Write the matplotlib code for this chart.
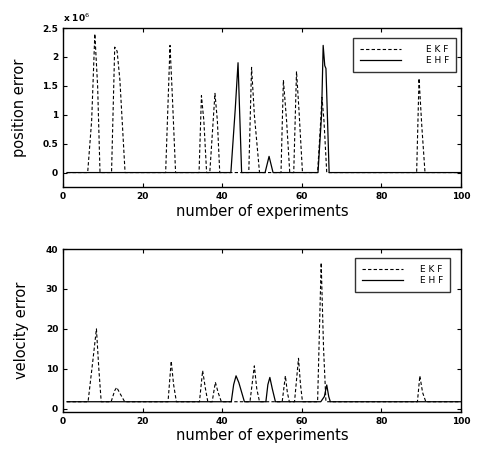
import matplotlib
matplotlib.use('Agg')
import matplotlib.pyplot as plt

ekf_pos_x = [1, 6.2, 7.2, 8.0, 8.7, 9.3, 12.2, 13.0, 13.6, 14.3, 15.6,
             25.8, 26.9, 27.5, 28.3, 34.2, 34.8, 35.4, 36.1, 36.9, 38.2, 38.8, 39.4,
             46.7, 47.4, 48.1, 49.4, 54.8, 55.4, 56.2, 57.0, 58.0, 58.7, 59.3, 60.2,
             64.0, 64.7, 65.1, 65.6, 66.3, 88.9, 89.5, 90.2, 91.0, 100]
ekf_pos_y = [0, 0, 0.9, 2.4, 1.5, 0, 0, 2.17, 2.1, 1.6, 0,
             0, 2.2, 1.3, 0, 0, 1.33, 0.9, 0, 0, 1.37, 0.9, 0,
             0, 1.82, 1.0, 0, 0, 1.6, 0.9, 0, 0, 1.75, 1.1, 0,
             0, 0.8, 1.3, 0.9, 0, 0, 1.63, 0.8, 0, 0]
ehf_pos_x = [1, 42.2, 43.3, 44.0, 44.9, 50.8, 51.8, 52.8,
             64.1, 65.0, 65.4, 65.8, 66.1, 66.9, 100]
ehf_pos_y = [0, 0, 1.1, 1.9, 0, 0, 0.28, 0,
             0, 1.0, 2.2, 1.85, 1.8, 0, 0]

ekf_vel_x = [1, 6.3, 7.5, 8.4, 9.0, 9.6, 12.1, 13.0, 13.5, 14.2, 15.5,
             26.4, 27.2, 27.8, 28.5, 34.3, 35.1, 35.8, 36.4, 37.5, 38.3, 39.0, 39.8,
             47.0, 48.1, 48.7, 49.4, 55.1, 55.9, 56.4, 56.9, 58.2, 59.2, 59.7, 60.2,
             64.0, 64.9, 65.5, 66.1, 89.1, 89.7, 90.4, 91.2, 100]
ekf_vel_y = [1.7, 1.7, 12, 20, 10, 1.7, 1.7, 4.5, 5.3, 4, 1.7,
             1.7, 11.9, 6, 1.7, 1.7, 9.5, 5, 1.7, 1.7, 6.6, 4, 1.7,
             1.7, 10.7, 5, 1.7, 1.7, 8.2, 4, 1.7, 1.7, 12.6, 6, 1.7,
             1.7, 36.6, 15, 1.7, 1.7, 8.2, 4, 1.7, 1.7]
ehf_vel_x = [1, 42.3, 42.9, 43.5, 44.2, 45.6, 51.0, 51.5, 52.0, 52.6, 53.4,
             64.8, 65.7, 66.3, 66.8, 67.2, 100]
ehf_vel_y = [1.7, 1.7, 6, 8.2, 6.5, 1.7, 1.7, 6, 7.8, 5, 1.7,
             1.7, 3, 5.9, 3, 1.7, 1.7]

x_ticks = [0, 20, 40, 60, 80, 100]
pos_ticks = [0, 0.5, 1, 1.5, 2, 2.5]
pos_labels = ['0', '0.5', '1', '1.5', '2', '2.5']
vel_ticks = [0, 10, 20, 30, 40]

fig = plt.figure(figsize=(4.81, 4.49), dpi=100)
ax1 = fig.add_axes([0.131, 0.5835, 0.827, 0.354])
ax2 = fig.add_axes([0.131, 0.0831, 0.827, 0.362])

dash = (0, (3, 2))


def style(ax):
    ax.tick_params(direction='in', top=True, right=True, length=3,
                   labelsize=6.5, width=0.8)
    for lab in ax.get_xticklabels() + ax.get_yticklabels():
        lab.set_fontweight('bold')
    for s in ax.spines.values():
        s.set_linewidth(1.0)
    ax.set_xlabel('number of experiments', fontsize=10.5, labelpad=2)


ax1.plot(ekf_pos_x, ekf_pos_y, color='black', lw=0.8, ls=dash, label='E K F')
ax1.plot(ehf_pos_x, ehf_pos_y, color='black', lw=0.9, label='E H F')
ax1.set_xlim(0, 100)
ax1.set_ylim(-0.25, 2.5)
ax1.set_xticks(x_ticks)
ax1.set_yticks(pos_ticks)
ax1.set_yticklabels(pos_labels)
ax1.set_ylabel('position error', fontsize=10.5)
ax1.yaxis.set_label_coords(-0.09, 0.5)
ax1.text(0.0, 1.04, r'x 10$^{6}$', transform=ax1.transAxes, fontsize=6.5,
         fontweight='bold')
style(ax1)
leg = ax1.legend(loc='upper right', bbox_to_anchor=(1.0, 0.965), fontsize=6.5,
                 frameon=True, fancybox=False, edgecolor='black',
                 handlelength=4.5, handletextpad=2.8, borderpad=0.8,
                 labelspacing=0.2)
leg.get_frame().set_linewidth(1.0)

ax2.plot(ekf_vel_x, ekf_vel_y, color='black', lw=0.8, ls=dash, label='E K F')
ax2.plot(ehf_vel_x, ehf_vel_y, color='black', lw=0.9, label='E H F')
ax2.set_xlim(0, 100)
ax2.set_ylim(-0.8, 40)
ax2.set_xticks(x_ticks)
ax2.set_yticks(vel_ticks)
ax2.set_ylabel('velocity error', fontsize=10.5)
ax2.yaxis.set_label_coords(-0.085, 0.5)
style(ax2)
leg2 = ax2.legend(loc='upper right', bbox_to_anchor=(0.985, 0.975), fontsize=6.5,
                  frameon=True, fancybox=False, edgecolor='black',
                  handlelength=4.5, handletextpad=1.9, borderpad=0.8,
                  labelspacing=0.2)
leg2.get_frame().set_linewidth(1.0)

fig.savefig('out.png', dpi=100)
